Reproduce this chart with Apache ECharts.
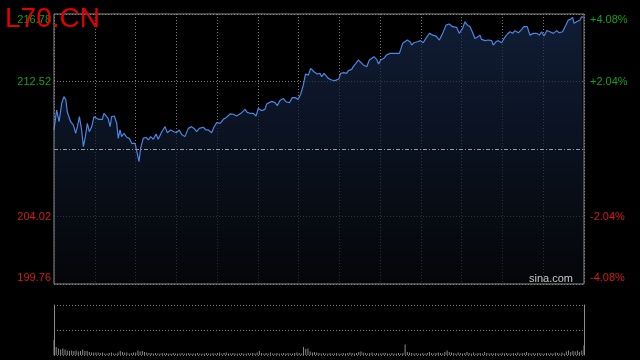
<!DOCTYPE html>
<html>
<head>
<meta charset="utf-8">
<script src="https://cdn.jsdelivr.net/npm/echarts@6/dist/echarts.min.js"></script>
<style>
html,body{margin:0;padding:0;background:#000;}
#c{width:640px;height:360px;}
</style>
</head>
<body>
<div id="c"></div>
<script>
// ---- data ----
const titleText = 'L70.CN';
const watermark = 'sina.com';
const priceMin = 199.76;
const priceMax = 216.78;
const basePrice = 208.27;
const leftTickLabels = ['199.76', '204.02', '', '212.52', '216.78'];
const rightTickLabels = ['-4.08%', '-2.04%', '', '+2.04%', '+4.08%'];

// minutes since open (0 = 09:30, 240 = 15:00)
const times = [
  0,1.2,2.3,3.5,4.5,5.4,6.0,6.6,7.5,8.8,9.8,10.6,11.5,12.5,13.3,14.2,15.1,16.0,17.1,18.1,
  19.0,20.1,20.8,21.9,22.6,23.5,24.5,25.4,26.1,27.3,28.4,29.1,29.9,30.6,31.7,32.9,34.1,35.2,36.7,37.7,
  38.5,39.2,40.4,41.7,42.7,43.8,45.0,46.2,47.2,48.8,50.3,51.3,52.8,54.3,55.5,56.7,57.8,59.3,60.8,62.3,
  63.8,64.6,65.8,67.6,68.8,69.9,71.4,72.4,73.7,75.2,76.7,78.2,79.7,81.2,82.7,83.5,85.0,86.5,87.5,88.7,
  90.3,91.5,92.5,94.0,95.5,96.3,98.6,100.1,101.1,102.3,103.8,105.0,106.6,107.9,109.1,110.6,111.7,112.9,113.9,115.2,
  116.2,117.7,119.2,120.4,121.2,122.3,123.2,124.2,125.7,127.2,128.0,129.0,129.8,131.3,132.5,133.3,134.8,135.5,136.7,137.8,
  140.1,141.6,142.8,143.9,144.9,146.1,147.0,147.9,149.4,150.6,152.1,154.4,156.4,
  157.9,158.9,160.0,161.2,162.0,163.0,164.5,166.0,167.2,168.4,170.0,171.5,173.0,174.5,176.0,177.5,179.0,180.5,182.3,183.5,
  185.0,186.1,187.2,188.4,189.6,190.6,191.7,192.9,193.6,195.2,196.7,198.2,198.9,200.1,201.2,202.7,203.8,205.3,206.5,207.7,
  208.7,210.3,211.8,212.8,214.3,215.5,217.0,218.5,219.8,220.8,221.9,223.1,224.6,226.1,227.6,228.8,230.3,231.8,232.9,233.9,
  234.8,235.5,236.7,238.2,238.9,239.7,240
];
const prices = [
  209.47,210.73,209.99,211.15,211.57,211.36,210.62,210.62,209.99,209.78,209.26,209.68,210.31,209.47,208.42,209.05,209.89,209.36,209.68,210.31,
  210.41,210.14,210.20,210.14,210.52,210.46,210.20,209.68,210.31,210.35,209.89,208.94,209.47,209.05,209.26,209.01,208.94,208.63,208.63,207.99,
  207.47,208.31,208.94,209.01,208.84,209.05,208.88,209.22,208.88,209.36,209.68,209.30,209.47,209.36,209.30,209.47,209.19,209.05,209.57,209.68,
  209.51,209.36,209.57,209.64,209.47,209.47,209.30,209.64,209.93,209.89,210.14,210.27,210.48,210.46,210.35,210.27,210.56,210.77,210.58,210.52,
  210.52,210.35,210.83,210.69,210.77,211.11,211.27,211.19,211.00,211.32,211.46,211.25,211.19,211.51,211.51,211.40,211.72,212.30,213.00,212.93,
  213.35,213.14,213.00,213.04,212.83,213.04,213.14,212.72,212.62,212.58,212.51,212.68,213.04,213.08,213.04,213.21,213.29,213.46,213.67,213.88,
  213.57,213.46,213.88,213.99,214.09,213.92,213.63,213.88,213.99,214.20,214.30,214.30,214.30,
  214.93,215.03,215.14,215.03,214.82,214.97,215.03,215.10,214.97,215.24,215.56,215.45,215.39,215.14,215.56,216.08,216.15,215.98,215.94,215.56,
  215.87,216.29,216.08,215.98,215.60,215.24,215.31,215.45,215.18,215.10,215.14,215.10,214.82,215.03,215.10,214.97,215.24,215.52,215.66,215.56,
  215.73,215.60,215.81,215.98,215.98,215.45,215.56,215.56,215.45,215.66,215.39,215.73,215.66,215.56,215.73,215.60,215.66,216.08,216.40,216.44,
  216.57,216.19,216.29,216.40,216.61,216.57,216.57
];

// per-minute volume (relative units, panel top = 100)
const volumes = [
  30,16,13,11,13,11,9,8,9,8,
  9,7,8,11,8,8,6,5,5,5,
  5,4,5,3,3,4,5,3,3,5,
  8,6,5,5,3,4,5,5,9,7,
  8,6,5,4,4,3,4,3,3,4,
  3,4,3,3,4,3,3,3,4,3,
  3,4,3,3,3,4,3,3,3,4,
  3,3,4,3,4,5,3,4,5,3,
  3,4,3,3,3,4,3,3,4,3,
  4,3,5,8,4,3,4,3,5,3,
  3,4,3,3,4,3,4,3,3,4,
  5,4,3,16,12,13,7,5,6,5,
  4,3,4,3,3,4,3,3,4,3,
  3,4,3,4,5,4,3,4,6,7,
  5,4,3,4,5,3,4,3,3,4,
  4,3,3,4,3,3,4,3,4,21,
  6,5,4,3,4,3,3,4,3,4,
  6,4,3,4,5,4,3,6,9,6,
  5,4,3,5,4,3,4,6,4,3,
  5,3,4,4,3,6,4,3,4,3,
  4,3,3,4,3,4,3,3,4,3,
  5,3,4,4,6,4,3,4,3,4,
  4,3,3,4,3,4,3,5,4,3,
  5,3,7,9,6,8,7,9,6,9,
  19
];

// ---- chart ----
const GREEN = '#14a014';
const RED = '#d41a1a';
const GRID = '#7a7a7a';
const BORDER = '#8c8c8c';

const priceData = times.map((t, i) => [t, prices[i]]);
const volData = volumes.map((v, i) => [i, v]);

const labelRich = {
  gt: { color: GREEN, fontSize: 11, fontFamily: 'Liberation Sans, Arial, sans-serif', padding: [12, 0, 0, 0] },
  g:  { color: GREEN, fontSize: 11, fontFamily: 'Liberation Sans, Arial, sans-serif' },
  r:  { color: RED,   fontSize: 11, fontFamily: 'Liberation Sans, Arial, sans-serif' },
  rb: { color: RED,   fontSize: 11, fontFamily: 'Liberation Sans, Arial, sans-serif', padding: [0, 0, 12, 0] }
};
function fmt(list) {
  return function (v) {
    const i = Math.round(v);
    const s = list[i];
    if (!s) return '';
    if (i === 0) return '{rb|' + s + '}';
    if (i === 1) return '{r|' + s + '}';
    if (i === 3) return '{g|' + s + '}';
    return '{gt|' + s + '}';
  };
}

const chart = echarts.init(document.getElementById('c'), null, { renderer: 'canvas' });
chart.setOption({
  backgroundColor: '#000',
  animation: false,
  title: {
    text: titleText,
    left: 0, top: 0,
    textStyle: { color: '#e30000', fontSize: 28, fontWeight: 'normal', fontFamily: 'Liberation Sans, Arial, sans-serif' },
    z: 10
  },
  graphic: [{
    type: 'text', right: 67, top: 273, z: 10,
    style: { text: watermark, fill: '#c8c8c8', fontSize: 11, fontFamily: 'Liberation Sans, Arial, sans-serif' }
  }],
  grid: [
    { left: 54, top: 14, width: 530, height: 270, show: true, borderColor: BORDER, borderWidth: 1, backgroundColor: 'transparent', z: 3 },
    { left: 54, top: 305, width: 530, height: 50 }
  ],
  xAxis: [
    { type: 'value', gridIndex: 0, min: 0, max: 240, interval: 240 / 13,
      axisLine: { show: false }, axisTick: { show: false }, axisLabel: { show: false },
      splitLine: { show: true, lineStyle: { color: GRID, type: [1, 2], width: 1 } } },
    { type: 'value', gridIndex: 1, min: 0, max: 240,
      axisLine: { show: false }, axisTick: { show: false }, axisLabel: { show: false }, splitLine: { show: false } }
  ],
  yAxis: [
    { type: 'value', gridIndex: 0, min: priceMin, max: priceMax, show: false },
    { type: 'value', gridIndex: 0, position: 'left', min: 0, max: 4, interval: 1,
      axisLine: { show: false }, axisTick: { show: false },
      axisLabel: { show: true, margin: 3, formatter: fmt(leftTickLabels), rich: labelRich },
      splitLine: { show: true, lineStyle: { color: [GRID, GRID, 'rgba(0,0,0,0)', GRID, GRID], type: [1, 2], width: 1 } } },
    { type: 'value', gridIndex: 0, position: 'right', min: 0, max: 4, interval: 1,
      axisLine: { show: false }, axisTick: { show: false },
      axisLabel: { show: true, margin: 6, formatter: fmt(rightTickLabels), rich: labelRich },
      splitLine: { show: false } },
    { type: 'value', gridIndex: 1, position: 'left', min: 0, max: 100, interval: 50,
      axisLine: { show: true, lineStyle: { color: BORDER, width: 1 } }, axisTick: { show: false }, axisLabel: { show: false },
      splitLine: { show: true, lineStyle: { color: GRID, type: [1, 2], width: 1 } } },
    { type: 'value', gridIndex: 1, position: 'right', min: 0, max: 100, interval: 50,
      axisLine: { show: true, lineStyle: { color: BORDER, width: 1 } }, axisTick: { show: false }, axisLabel: { show: false },
      splitLine: { show: false } }
  ],
  series: [
    {
      type: 'line', xAxisIndex: 0, yAxisIndex: 0, data: priceData,
      showSymbol: false, symbol: 'none', smooth: false,
      lineStyle: { color: '#4a86e2', width: 1.2 },
      areaStyle: {
        origin: 'start',
        color: new echarts.graphic.LinearGradient(0, 0, 0, 1, [
          { offset: 0, color: '#17294b' },
          { offset: 1, color: '#06080c' }
        ])
      },
      markLine: {
        silent: true, symbol: 'none', label: { show: false },
        lineStyle: { color: '#9a9a9a', type: [4, 2, 1, 2], width: 1 },
        data: [{ yAxis: basePrice }]
      },
      z: 2
    },
    {
      type: 'bar', xAxisIndex: 1, yAxisIndex: 3, data: volData,
      barWidth: 1, itemStyle: { color: '#8a8a8a' }
    }
  ]
});
</script>
</body>
</html>
